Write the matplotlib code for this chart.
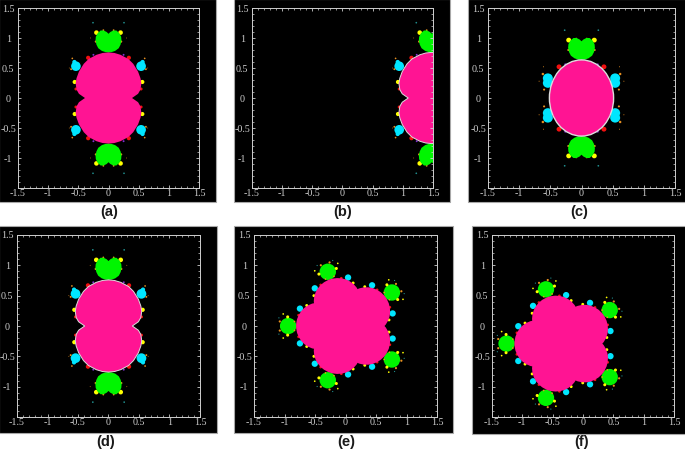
import matplotlib
matplotlib.use("Agg")
import matplotlib.pyplot as plt
from matplotlib.patches import Circle, Ellipse, Rectangle, Polygon
import math

W, H = 685, 450
PINK, GREEN, CYAN, YELLOW = "#ff1493", "#00f500", "#00e6ff", "#ffff00"
RED, ORANGE, PURPLE, TEAL = "#f01010", "#e89020", "#8030d0", "#209090"
GREY = "#cfcfcf"

captions = ["(a)", "(b)", "(c)", "(d)", "(e)", "(f)"]
caption_x = [109, 343, 579, 106, 346, 582]
caption_y = [212, 212, 212, 442, 442, 442]
# black boxes: left, right, top, bottom (px)
box_l = [-1, 234, 468, -1, 234, 472]
box_r = [216, 450, 686, 217, 453, 686]
box_t = [-1, -1, -1, 226, 226, 226]
box_b = [202, 202, 202, 433, 433, 434]
# plot frames
fr_l = [18, 252, 488, 17, 254, 492]
fr_r = [199, 433, 675, 200, 437, 674]
fr_t = [8, 8, 8, 235, 235, 235]
fr_b = [188, 188, 188, 417, 417, 417]

tick_major = [-1.5, -1, -0.5, 0, 0.5, 1, 1.5]
xtick_labels = ["-1.5", "-1", "-0.5", "0", "0.5", "1", "1.5"]
ytick_labels = ["", "-1", "-0.5", "0", "0.5", "1", "1.5"]
tick_minor = [-1.4, -1.3, -1.2, -1.1, -0.9, -0.8, -0.7, -0.6, -0.4, -0.3, -0.2, -0.1,
              0.1, 0.2, 0.3, 0.4, 0.6, 0.7, 0.8, 0.9, 1.1, 1.2, 1.3, 1.4]

# outlines in the upper right quadrant (mirrored into the others)
body_x = [0.0, 0.10, 0.20, 0.33, 0.41, 0.49, 0.53, 0.545, 0.53, 0.49, 0.39]
body_y = [0.76, 0.75, 0.72, 0.65, 0.57, 0.44, 0.33, 0.245, 0.14, 0.07, 0.0]
bud_x = [0.0, 0.03, 0.08, 0.13, 0.18, 0.21, 0.215, 0.20, 0.17, 0.11, 0.05, 0.0]
bud_y = [1.07, 1.10, 1.125, 1.125, 1.08, 1.02, 0.96, 0.89, 0.83, 0.785, 0.765, 0.76]
bud_drop_c = 0.125

# small blobs, upper right quadrant
two_x = [0.20, 0.257, 0.54, 0.565, 0.56, 0.337, 0.54, 0.21, 0.085, 0.60, 0.62, 0.25, 0.65, 0.30]
two_y = [1.09, 1.255, 0.53, 0.60, 0.267, 0.67, 0.15, 0.94, 1.13, 0.66, 0.48, 0.72, 0.50, 1.00]
two_r = [0.038, 0.014, 0.08, 0.035, 0.035, 0.035, 0.025, 0.018, 0.015, 0.014, 0.016, 0.016, 0.007, 0.007]
two_c = [YELLOW, TEAL, CYAN, CYAN, YELLOW, RED, RED, ORANGE, ORANGE, ORANGE, ORANGE, PURPLE, ORANGE, ORANGE]
# panel (c) version of the same blobs
oval_x = [0.205, 0.27, 0.54, 0.54, 0.36, 0.21, 0.085, 0.62, 0.60, 0.26, 0.68, 0.61]
oval_y = [0.965, 1.13, 0.33, 0.25, 0.52, 0.80, 0.99, 0.40, 0.14, 0.56, 0.28, 0.52]
oval_r = [0.04, 0.014, 0.08, 0.08, 0.04, 0.018, 0.015, 0.02, 0.017, 0.017, 0.008, 0.008]
oval_c = [YELLOW, TEAL, CYAN, CYAN, RED, ORANGE, ORANGE, ORANGE, ORANGE, PURPLE, ORANGE, ORANGE]

shift_b = 1.48
oval_w, oval_h = 0.515, 0.635

# five-fold set: angle of each spoke, then blobs as (angle offset, radius, size, colour)
spokes = [180, 108, 36, -36, -108]
five_lobe_radius, five_lobe_radial, five_lobe_side = 0.44, 0.37, 0.385
five_core = 0.40
five_off = [0, -21, 21, -9, 9, -4, 4, -28, 28, -13, 13, -18, 18, -11, 11, -7, 7, -5, 5]
five_rad = [0.94, 0.80, 0.80, 0.96, 0.96, 1.08, 1.08, 0.72, 0.72, 0.79, 0.79, 0.75, 0.75, 1.04, 1.04, 1.10, 1.10, 0.84, 0.84]
five_siz = [0.135, 0.052, 0.052, 0.025, 0.025, 0.018, 0.018, 0.024, 0.024, 0.022, 0.022, 0.016, 0.016, 0.014, 0.014, 0.01, 0.01, 0.014, 0.014]
five_col = [GREEN, CYAN, CYAN, YELLOW, YELLOW, ORANGE, ORANGE, YELLOW, YELLOW, RED, RED, ORANGE, ORANGE,
            YELLOW, YELLOW, TEAL, TEAL, ORANGE, ORANGE]
offset_e = (0.0, 0.0)
offset_f = (-0.32, -0.29)

fig = plt.figure(figsize=(W / 100, H / 100), dpi=100, facecolor="white")
bg = fig.add_axes([0, 0, 1, 1])
bg.set_xlim(0, W); bg.set_ylim(H, 0); bg.axis("off")
for i in range(6):
    bg.add_patch(Rectangle((box_l[i], box_t[i]), box_r[i] - box_l[i], box_b[i] - box_t[i],
                           fc="black", ec="#a8a8a8", lw=0.8))
    bg.text(caption_x[i], caption_y[i], captions[i], ha="center", va="center", fontsize=10.5,
            fontweight="bold", family="Liberation Sans", color="#1a1a1a")


def make_axes(i):
    ax = fig.add_axes([fr_l[i] / W, 1 - fr_b[i] / H, (fr_r[i] - fr_l[i]) / W, (fr_b[i] - fr_t[i]) / H],
                      facecolor="black")
    ax.set_xlim(-1.5, 1.5); ax.set_ylim(-1.5, 1.5)
    ax.set_xticks(tick_major); ax.set_xticklabels(xtick_labels)
    ax.set_yticks(tick_major); ax.set_yticklabels(ytick_labels)
    ax.set_xticks(tick_minor, minor=True); ax.set_yticks(tick_minor, minor=True)
    ax.tick_params(which="major", direction="in", length=2.4, width=0.6, color=GREY,
                   top=True, right=True)
    ax.tick_params(which="minor", direction="in", length=1.2, width=0.5, color=GREY,
                   top=True, right=True)
    ax.tick_params(axis="x", which="major", pad=1, labelsize=7.2, labelcolor=GREY)
    ax.tick_params(axis="y", which="major", pad=7, labelsize=7.2, labelcolor=GREY)
    for lab in ax.get_xticklabels() + ax.get_yticklabels():
        lab.set_family("Liberation Serif")
    for lab in ax.get_yticklabels():
        lab.set_ha("center")
    for sp in ax.spines.values():
        sp.set_color(GREY); sp.set_linewidth(0.7)
    return ax


def blobs(ax, xs, ys, rs, cs, dx=0.0):
    for x, y, r, c in zip(xs, ys, rs, cs):
        for sx, sy in ((1, 1), (-1, 1), (1, -1), (-1, -1)):
            ax.add_patch(Circle((sx * x + dx, sy * y), r, fc=c, ec="none"))


def buds(ax, dx=0.0, drop=0.0):
    for sy in (1, -1):
        pts = [(x + dx, sy * (y - drop)) for x, y in zip(bud_x, bud_y)]
        pts += [(-x + dx, sy * (y - drop)) for x, y in zip(bud_x[::-1], bud_y[::-1])]
        ax.add_patch(Polygon(pts, closed=True, fc=GREEN, ec="none"))


def body(ax, dx=0.0, edge=None):
    right = list(zip(body_x, body_y)) + [(x, -y) for x, y in zip(body_x[::-1], body_y[::-1])]
    pts = [(x + dx, y) for x, y in right] + [(dx - x, y) for x, y in right[::-1]]
    ax.add_patch(Polygon(pts, closed=True, fc=PINK, ec=edge or "none", lw=0.7))


def five(ax, off):
    ox, oy = off
    for a in spokes:
        for d, rad, s, c in zip(five_off, five_rad, five_siz, five_col):
            t = math.radians(a + d)
            ax.add_patch(Circle((ox + rad * math.cos(t), oy + rad * math.sin(t)), s, fc=c, ec="none"))
    for a in spokes:
        t = math.radians(a)
        ax.add_patch(Ellipse((ox + five_lobe_radius * math.cos(t), oy + five_lobe_radius * math.sin(t)),
                             2 * five_lobe_radial, 2 * five_lobe_side, angle=a, fc=PINK, ec="none"))
    ax.add_patch(Circle((ox, oy), five_core, fc=PINK, ec="none"))


# (a)
ax = make_axes(0)
blobs(ax, two_x, two_y, two_r, two_c); buds(ax); body(ax)
# (b)
ax = make_axes(1)
blobs(ax, two_x, two_y, two_r, two_c, dx=shift_b); buds(ax, dx=shift_b); body(ax, dx=shift_b, edge="#dddddd")
# (c)
ax = make_axes(2)
blobs(ax, oval_x, oval_y, oval_r, oval_c); buds(ax, drop=bud_drop_c)
ax.add_patch(Ellipse((0, 0), 2 * oval_w, 2 * oval_h, fc=PINK, ec="#dddddd", lw=1.0))
# (d)
ax = make_axes(3)
blobs(ax, two_x, two_y, two_r, two_c); buds(ax); body(ax, edge="#dddddd")
# (e)
five(make_axes(4), offset_e)
# (f)
five(make_axes(5), offset_f)

fig.savefig("out.png", dpi=100, facecolor="white")
